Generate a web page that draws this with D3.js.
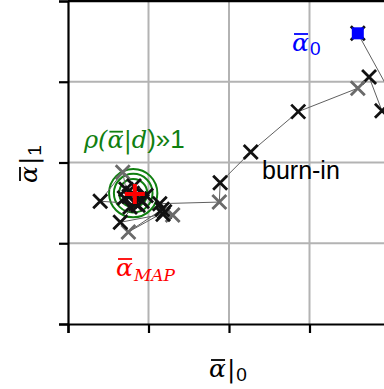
<!DOCTYPE html>
<html>
<head>
<meta charset="utf-8">
<script src="https://cdn.jsdelivr.net/npm/d3@7"></script>
<style>
  html, body { margin: 0; padding: 0; background: #fff; }
  svg { display: block; }
</style>
</head>
<body>
<svg id="chart" width="384" height="389"></svg>
<script>
// Tick values for both parameter axes
const xTicks = [0, 1, 2, 3, 4];
const yTicks = [0, 1, 2, 3, 4];

// Markov chain samples: parameter 0, parameter 1, and whether the step was accepted
const chainX = [3.60, 4.04, 3.90, 3.74, 3.60, 2.86, 2.27, 1.89, 1.88, 1.14, 1.20, 0.75, 1.17, 1.30, 1.18, 0.65, 0.84, 0.40, 0.68, 0.72, 0.89, 0.77, 0.97, 0.70, 0.82, 0.87, 0.80, 0.92, 0.76];
const chainY = [3.60, 2.80, 2.64, 3.06, 2.92, 2.63, 2.13, 1.75, 1.51, 1.49, 1.39, 1.14, 1.42, 1.35, 1.36, 1.26, 1.49, 1.52, 1.88, 1.67, 1.55, 1.45, 1.59, 1.56, 1.71, 1.47, 1.62, 1.52, 1.58];
const accepted = [1, 0, 1, 1, 0, 1, 1, 1, 0, 1, 1, 0, 1, 0, 1, 1, 1, 1, 0, 1, 1, 1, 1, 1, 1, 1, 1, 1, 1];

// Maximum a-posteriori estimate and posterior contour radii
const mapPoint = [0.83, 1.61];
const contourCenter = [0.81, 1.62];
const contourRadii = [0.175, 0.24, 0.30];

const svg = d3.select("#chart");
const margin = { left: 68, top: 1, right: -6, bottom: 65 };
const W = 384, H = 389;

const x = d3.scaleLinear().domain([0, 4]).range([margin.left, W - margin.right]);
const y = d3.scaleLinear().domain([0, 4]).range([H - margin.bottom, margin.top]);

const MATH = "DejaVu Serif, Liberation Serif, serif";
const SANS = "Liberation Sans, Arial, sans-serif";

// Grid
const grid = svg.append("g");
grid.selectAll("line.vx").data(xTicks.slice(1, -1)).join("line")
  .attr("x1", d => x(d)).attr("x2", d => x(d))
  .attr("y1", y(0)).attr("y2", y(4))
  .attr("stroke", "#b3b3b3").attr("stroke-width", 2);
grid.selectAll("line.hy").data(yTicks.slice(1, -1)).join("line")
  .attr("y1", d => y(d)).attr("y2", d => y(d))
  .attr("x1", x(0)).attr("x2", x(4))
  .attr("stroke", "#b3b3b3").attr("stroke-width", 2);

// Axes
const xAxis = d3.axisBottom(x).tickValues(xTicks).tickSize(9).tickFormat("");
const yAxis = d3.axisLeft(y).tickValues(yTicks).tickSize(9).tickFormat("");
const gx = svg.append("g").attr("transform", `translate(0,${y(0)})`).call(xAxis);
const gy = svg.append("g").attr("transform", `translate(${x(0)},0)`).call(yAxis);
[gx, gy].forEach(g => {
  g.select(".domain").attr("stroke", "#000").attr("stroke-width", 2.2);
  g.selectAll(".tick line").attr("stroke", "#000").attr("stroke-width", 2.2);
});
// top spine
svg.append("line").attr("x1", x(0)).attr("x2", x(4)).attr("y1", y(4)).attr("y2", y(4))
  .attr("stroke", "#000").attr("stroke-width", 2.6);

// Posterior contours
svg.append("g").selectAll("circle").data(contourRadii).join("circle")
  .attr("cx", x(contourCenter[0])).attr("cy", y(contourCenter[1]))
  .attr("r", d => x(d) - x(0))
  .attr("fill", "none").attr("stroke", "#108010").attr("stroke-width", 2);

// Chain path
const pts = chainX.map((v, i) => [x(v), y(chainY[i]), accepted[i]]);
svg.append("path")
  .attr("d", d3.line()(pts.map(p => [p[0], p[1]])))
  .attr("fill", "none").attr("stroke", "#606060").attr("stroke-width", 1);

// Sample markers (x shaped)
const s = 7;
const mk = svg.append("g");
pts.forEach(p => {
  mk.append("path")
    .attr("d", `M${p[0]-s},${p[1]-s}L${p[0]+s},${p[1]+s}M${p[0]-s},${p[1]+s}L${p[0]+s},${p[1]-s}`)
    .attr("stroke", p[2] ? "#111" : "#6a6a6a").attr("stroke-width", 2.8).attr("fill", "none");
});

// Starting point
svg.append("rect")
  .attr("x", x(chainX[0]) - 6).attr("y", y(chainY[0]) - 6)
  .attr("width", 12).attr("height", 12).attr("fill", "#0000ff");

// MAP marker
const mx = x(mapPoint[0]), my = y(mapPoint[1]);
svg.append("path")
  .attr("d", `M${mx-10},${my}L${mx+10},${my}M${mx},${my-10}L${mx},${my+10}`)
  .attr("stroke", "#ff0000").attr("stroke-width", 4);

// Math-style text helper: lays parts out left to right, optional overbar
function mathText(g, x0, y0, parts, color) {
  let cx = x0;
  parts.forEach(p => {
    const t = g.append("text")
      .attr("x", cx).attr("y", y0 + (p.dy || 0))
      .attr("fill", color)
      .attr("font-family", p.serif === false ? SANS : MATH)
      .attr("font-style", p.italic ? "italic" : "normal")
      .attr("font-size", p.size)
      .text(p.t);
    const w = t.node().getComputedTextLength();
    if (p.bar) {
      g.append("line")
        .attr("x1", cx + w * 0.12).attr("x2", cx + w * 0.95)
        .attr("y1", y0 + (p.dy || 0) - p.size * 0.68).attr("y2", y0 + (p.dy || 0) - p.size * 0.68)
        .attr("stroke", color).attr("stroke-width", 1.8);
    }
    cx += w + (p.gap || 0);
  });
}

// Start label
mathText(svg.append("g"), 292, 51, [
  { t: "α", italic: true, size: 25, bar: true, gap: 1 },
  { t: "0", serif: false, size: 19, dy: 4 }
], "#0000ff");

// Posterior label
mathText(svg.append("g"), 84, 148, [
  { t: "ρ(", italic: true, size: 24 },
  { t: "α", italic: true, size: 24, bar: true },
  { t: "|", size: 24 },
  { t: "d", italic: true, size: 24 },
  { t: ")»1", serif: false, size: 26 }
], "#108010");

// MAP label
mathText(svg.append("g"), 116, 276, [
  { t: "α", italic: true, size: 25, bar: true, gap: 1 },
  { t: "MAP", italic: true, size: 17, dy: 5 }
], "#ff0000");

// burn-in annotation
svg.append("text").attr("x", 262).attr("y", 179)
  .attr("font-family", SANS).attr("font-size", 25)
  .attr("fill", "#000").text("burn-in");

// Axis labels
mathText(svg.append("g"), 209, 377, [
  { t: "α", italic: true, size: 25, bar: true, gap: 1 },
  { t: "|", size: 25, gap: 1 },
  { t: "0", serif: false, size: 19, dy: 4 }
], "#000");

const yl = svg.append("g").attr("transform", "translate(37,183) rotate(-90)");
mathText(yl, 0, 0, [
  { t: "α", italic: true, size: 25, bar: true, gap: 1 },
  { t: "|", size: 25, gap: 1 },
  { t: "1", serif: false, size: 19, dy: 4 }
], "#000");
</script>
</body>
</html>
